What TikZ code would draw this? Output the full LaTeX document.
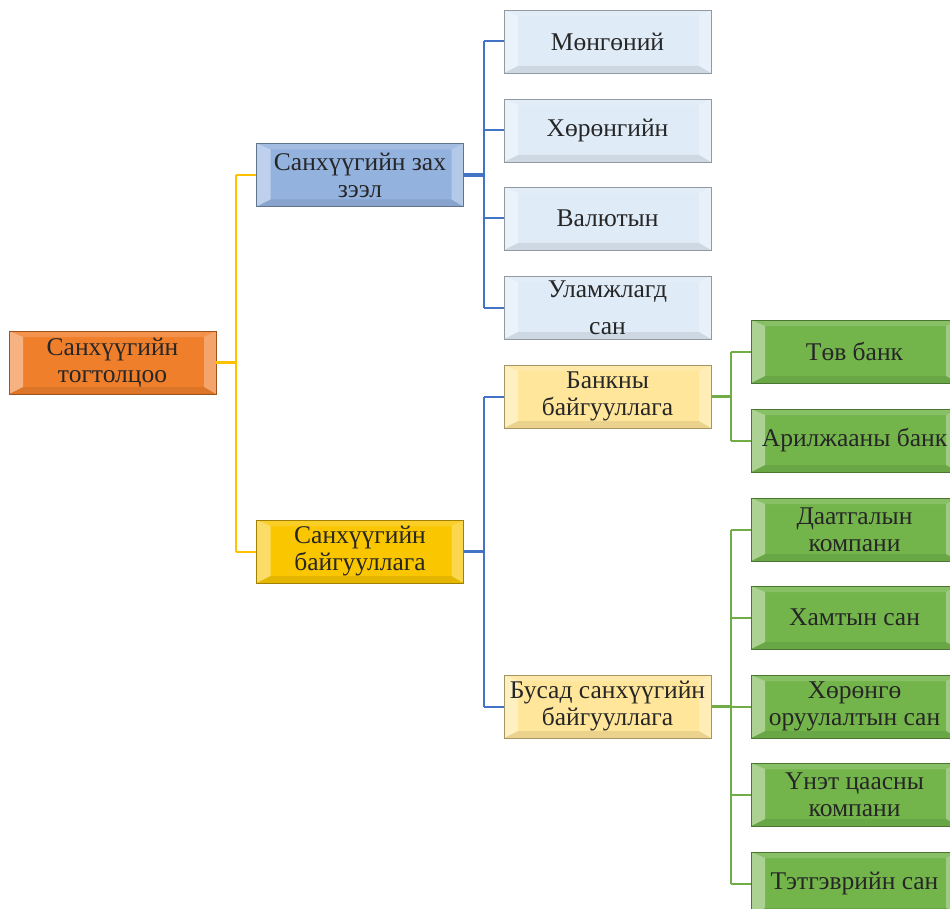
\documentclass[tikz,border=0pt]{standalone}
\usepackage{fontspec}
\setmainfont{Liberation Serif}
\usetikzlibrary{positioning}
\definecolor{rootorange}{HTML}{F07F2C}
\definecolor{marketblue}{HTML}{94B2DE}
\definecolor{paleblue}{HTML}{DFEBF7}
\definecolor{instgold}{HTML}{F9C600}
\definecolor{paleyellow}{HTML}{FFE69A}
\definecolor{leafgreen}{HTML}{73B54B}
\definecolor{lineyellow}{HTML}{FFC000}
\definecolor{lineblue}{HTML}{4472C4}
\definecolor{linegreen}{HTML}{70AD47}
\tikzset{
  bevelbox/.style={rectangle,draw=#1!65!black,fill=#1,line width=0.8pt,
    minimum width=207pt,minimum height=63pt,inner sep=0pt,align=center,
    text=black!85,font=\fontsize{25.5}{27}\selectfont,
    path picture={
      \fill[white,opacity=.4] (path picture bounding box.north west)
        -- ([shift={(14pt,-6pt)}]path picture bounding box.north west)
        -- ([shift={(14pt,7pt)}]path picture bounding box.south west)
        -- (path picture bounding box.south west) -- cycle;
      \fill[white,opacity=.3] (path picture bounding box.north east)
        -- ([shift={(-12pt,-6pt)}]path picture bounding box.north east)
        -- ([shift={(-12pt,7pt)}]path picture bounding box.south east)
        -- (path picture bounding box.south east) -- cycle;
      \fill[white,opacity=.15] (path picture bounding box.north west)
        -- (path picture bounding box.north east)
        -- ([shift={(-12pt,-6pt)}]path picture bounding box.north east)
        -- ([shift={(14pt,-6pt)}]path picture bounding box.north west) -- cycle;
      \fill[black,opacity=.08] (path picture bounding box.south west)
        -- (path picture bounding box.south east)
        -- ([shift={(-12pt,7pt)}]path picture bounding box.south east)
        -- ([shift={(14pt,7pt)}]path picture bounding box.south west) -- cycle;
    }},
  yline/.style={lineyellow,line width=2pt},
  bline/.style={lineblue,line width=2pt},
  gline/.style={linegreen,line width=2pt},
}
\begin{document}
\begin{tikzpicture}[x=1pt,y=-1pt]
\useasboundingbox (0,0) rectangle (950,909);
% root and second level
\node[bevelbox=rootorange] (root) at (112.5,362.5) {Санхүүгийн\\тогтолцоо};
\node[bevelbox=marketblue] (market) at (360,175) {Санхүүгийн зах\\зээл};
\node[bevelbox=instgold] (inst) at (360,551.5) {Санхүүгийн\\байгууллага};
% markets
\node[bevelbox=paleblue] (mon) at (607.5,41.5) {Мөнгөний};
\node[bevelbox=paleblue] (hor) at (607.5,130.5) {Хөрөнгийн};
\node[bevelbox=paleblue] (val) at (607.5,218.5) {Валютын};
\node[bevelbox=paleblue] (ulam) at (607.5,307.5) {Уламжлагд\\[10pt]сан};
% institutions
\node[bevelbox=paleyellow] (bank) at (607.5,396.5) {Банкны\\байгууллага};
\node[bevelbox=paleyellow] (other) at (607.5,706.5) {Бусад санхүүгийн\\байгууллага};
% banks
\node[bevelbox=leafgreen] (central) at (854.5,351.5) {Төв банк};
\node[bevelbox=leafgreen] (commerce) at (854.5,440.5) {Арилжааны банк};
% other institutions
\node[bevelbox=leafgreen] (insur) at (854.5,529.5) {Даатгалын\\компани};
\node[bevelbox=leafgreen] (mutual) at (854.5,617.5) {Хамтын сан};
\node[bevelbox=leafgreen] (invest) at (854.5,706.5) {Хөрөнгө\\оруулалтын сан};
\node[bevelbox=leafgreen] (secur) at (854.5,794.5) {Үнэт цаасны\\компани};
\node[bevelbox=leafgreen] (pension) at (854.5,883.5) {Тэтгэврийн сан};
% connectors
\draw[yline,line width=3.5pt] (root.east) -- ++(20,0) coordinate (rj);
\draw[yline] (rj |- market.west) -- (rj |- inst.west);
\foreach \c in {market,inst} \draw[yline] (rj |- \c.west) -- (\c.west);
\draw[bline,line width=3.5pt] (market.east) -- ++(20,0) coordinate (mj);
\draw[bline] (mj |- mon.west) -- (mj |- ulam.west);
\foreach \c in {mon,hor,val,ulam} \draw[bline] (mj |- \c.west) -- (\c.west);
\draw[bline,line width=3.5pt] (inst.east) -- ++(20,0) coordinate (ij);
\draw[bline] (ij |- bank.west) -- (ij |- other.west);
\foreach \c in {bank,other} \draw[bline] (ij |- \c.west) -- (\c.west);
\draw[gline,line width=3.5pt] (bank.east) -- ++(20,0) coordinate (bj);
\draw[gline] (bj |- central.west) -- (bj |- commerce.west);
\foreach \c in {central,commerce} \draw[gline] (bj |- \c.west) -- (\c.west);
\draw[gline,line width=3.5pt] (other.east) -- ++(20,0) coordinate (oj);
\draw[gline] (oj |- insur.west) -- (oj |- pension.west);
\foreach \c in {insur,mutual,invest,secur,pension} \draw[gline] (oj |- \c.west) -- (\c.west);
\end{tikzpicture}
\end{document}
